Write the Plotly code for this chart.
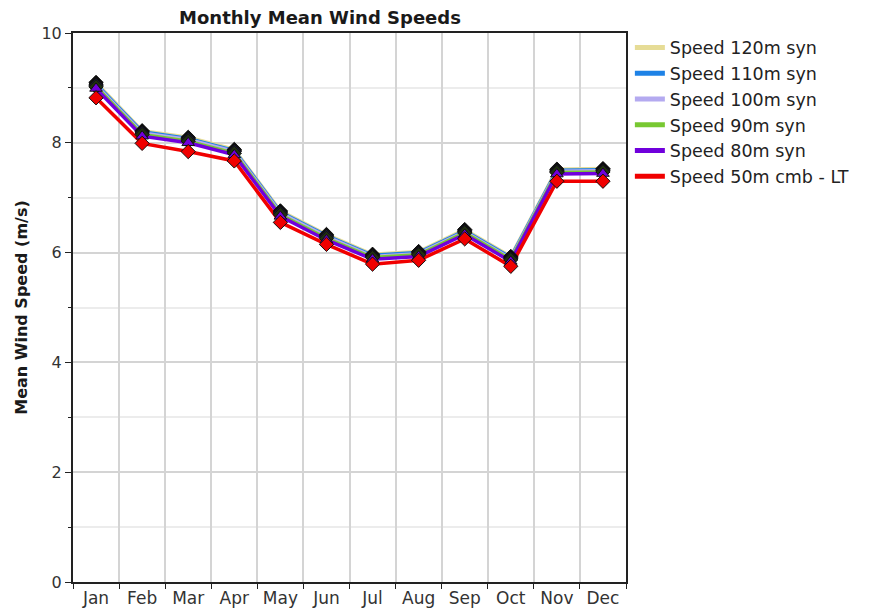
import plotly.graph_objects as go

months = ["Jan", "Feb", "Mar", "Apr", "May", "Jun", "Jul", "Aug", "Sep", "Oct", "Nov", "Dec"]

speed_120 = [9.10, 8.22, 8.10, 7.88, 6.76, 6.33, 5.97, 6.02, 6.42, 5.93, 7.52, 7.53]
speed_110 = [9.07, 8.20, 8.08, 7.86, 6.74, 6.31, 5.95, 6.00, 6.40, 5.91, 7.50, 7.51]
speed_100 = [9.05, 8.18, 8.06, 7.84, 6.72, 6.29, 5.93, 5.98, 6.38, 5.89, 7.48, 7.49]
speed_90 = [9.02, 8.15, 8.03, 7.81, 6.69, 6.26, 5.91, 5.96, 6.36, 5.87, 7.46, 7.47]
speed_80 = [8.99, 8.12, 8.00, 7.78, 6.66, 6.23, 5.88, 5.93, 6.33, 5.84, 7.43, 7.44]
speed_50 = [8.82, 7.99, 7.84, 7.67, 6.55, 6.15, 5.79, 5.86, 6.25, 5.75, 7.30, 7.30]

series = [
    ("Speed 120m syn", speed_120, "#e6dc96", "diamond", "#000000"),
    ("Speed 110m syn", speed_110, "#1e82e6", "diamond", "#000000"),
    ("Speed 100m syn", speed_100, "#b4aaf0", "diamond", "#1a1a40"),
    ("Speed 90m syn", speed_90, "#78c832", "diamond", "#203010"),
    ("Speed 80m syn", speed_80, "#7000dc", "triangle-up", "#7000dc"),
    ("Speed 50m cmb - LT", speed_50, "#f00000", "diamond", "#f00000"),
]

FONT = "DejaVu Sans, Verdana, sans-serif"
W, H = 875, 613

fig = go.Figure()

# lines
for name, vals, color, sym, mfill in series:
    fig.add_trace(go.Scatter(
        x=months, y=vals, mode="lines", name=name,
        line=dict(color=color, width=3.5),
        showlegend=False,
    ))

# markers
for name, vals, color, sym, mfill in series:
    fig.add_trace(go.Scatter(
        x=months, y=vals, mode="markers", name=name,
        marker=dict(symbol=sym, size=11, color=mfill, line=dict(color="#101010", width=1)),
        showlegend=False, hoverinfo="skip",
    ))

# legend entries (lines only)
for name, vals, color, sym, mfill in series:
    fig.add_trace(go.Scatter(
        x=[None], y=[None], mode="lines", name=name,
        line=dict(color=color, width=5),
        showlegend=True,
    ))

fig.update_layout(
    width=W, height=H,
    margin=dict(l=73, r=249, t=33, b=31),
    paper_bgcolor="white", plot_bgcolor="white",
    font=dict(family=FONT, color="#222222"),
    title=dict(text="<b>Monthly Mean Wind Speeds</b>", x=320/W, xanchor="center", y=1 - 18/H, yanchor="middle",
               font=dict(size=18, color="#1a1a1a", family=FONT)),
    showlegend=True,
    legend=dict(x=1.007, xanchor="left", y=1.006, yanchor="top", font=dict(size=17.5, color="#222222", family=FONT),
                bgcolor="rgba(0,0,0,0)", tracegroupgap=0, itemwidth=30),
    xaxis=dict(
        type="category", categoryorder="array", categoryarray=months,
        tickson="boundaries", ticks="outside", ticklen=5, tickcolor="#222",
        showgrid=True, gridcolor="#d4d4d4", gridwidth=1.5,
        showline=True, linecolor="#222", linewidth=2, mirror=True, automargin=False,
        tickfont=dict(size=17, color="#333", family=FONT), range=[-0.5, 11.5],
    ),
    yaxis=dict(
        range=[0, 10], dtick=2, ticks="outside", ticklen=6, tickcolor="#222",
        showgrid=True, gridcolor="#d4d4d4", gridwidth=1.5,
        showline=True, linecolor="#222", linewidth=2, mirror=True, zeroline=False, automargin=False,
        tickfont=dict(size=16, color="#333", family=FONT),
        minor=dict(dtick=1, showgrid=True, gridcolor="#ececec", ticks="outside", ticklen=3, tickcolor="#222"),
        title=dict(text="<b>Mean Wind Speed (m/s)</b>", font=dict(size=16, color="#1a1a1a", family=FONT), standoff=10),
    ),
)

fig.write_html("out.html", config={"displayModeBar": False},
               post_script="document.body.style.margin='0';document.body.style.overflow='hidden';")
